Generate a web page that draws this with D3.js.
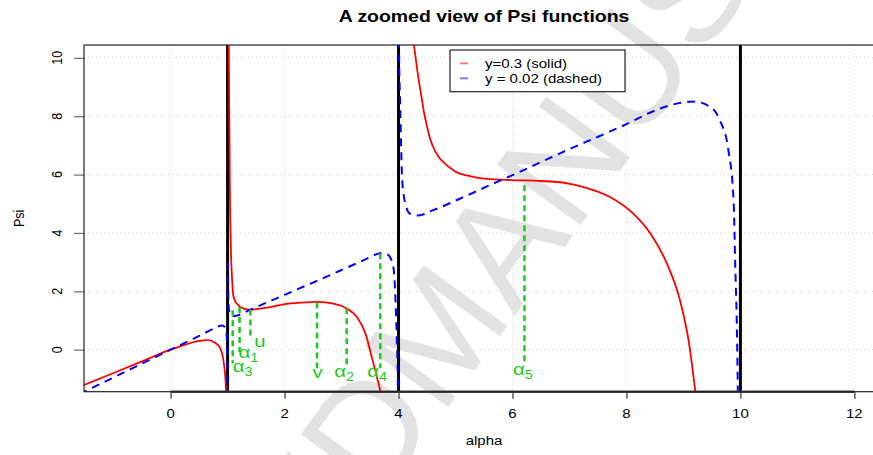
<!DOCTYPE html>
<html>
<head>
<meta charset="utf-8">
<script src="https://cdn.jsdelivr.net/npm/d3@7"></script>
<style>
  body { margin: 0; background: #fff; }
  text { font-family: "Liberation Sans", Arial, sans-serif; }
</style>
</head>
<body>
<svg id="chart" width="873" height="455"></svg>
<script>
// values, [alpha, Psi]
var redA = [[-1.6,-1.27],[-1,-0.8],[-0.5,-0.4],[0,0],[0.3,0.2],[0.5,0.3],[0.65,0.33],[0.78,0.24],[0.87,0.05],[0.93,-0.4],[0.97,-1.3],[0.99,-3]];
var redB = [[1.003,14],[1.02,10.5],[1.04,5.5],[1.06,3.3],[1.08,2.38],[1.1,1.85],[1.16,1.58],[1.28,1.41],[1.4,1.37],[1.69,1.44],[1.98,1.55],[2.28,1.61],[2.57,1.64],[2.86,1.58],[3.09,1.41],[3.27,1.12],[3.42,0.55],[3.53,-0.25],[3.62,-0.94],[3.68,-1.45],[3.75,-3]];
var redC = [[4.12,14],[4.2,11.6],[4.27,10.46],[4.3,10.0],[4.35,9.3],[4.4,8.7],[4.45,8.1],[4.5,7.65],[4.55,7.25],[4.6,6.98],[4.7,6.62],[4.8,6.4],[4.9,6.24],[5.0,6.1],[5.2,5.97],[5.5,5.86],[6.0,5.81],[6.5,5.78],[6.9,5.72],[7.25,5.57],[7.71,5.23],[8.12,4.66],[8.42,3.98],[8.71,2.95],[8.94,1.69],[9.09,0.32],[9.21,-1.45],[9.3,-3]];

var blueA = [[-1.6,-1.52],[-1,-0.95],[0,0],[0.5,0.47],[0.8,0.76],[0.9,0.83],[0.95,0.78],[0.98,0.55],[0.993,0],[1.0,-3]];
var blueB = [[1.005,3],[1.015,1.6],[1.03,1.3],[1.07,1.14],[1.15,1.16],[1.4,1.37],[2,1.88],[2.5,2.3],[3,2.73],[3.4,3.08],[3.6,3.26],[3.7,3.31],[3.8,3.27],[3.87,3.1],[3.91,2.83],[3.94,2.03],[3.97,0.32],[3.99,-1.4],[4.0,-4]];
var blueC = [[3.995,13],[4.01,10],[4.03,8.3],[4.06,6.0],[4.09,5.3],[4.12,5.0],[4.2,4.66],[4.35,4.6],[4.61,4.78],[5.14,5.23],[5.73,5.75],[6.02,6.0],[6.95,6.83],[7.89,7.63],[8.59,8.26],[8.9,8.44],[9.18,8.5],[9.47,8.32],[9.64,7.86],[9.79,6.83],[9.88,5.12],[9.91,2.83],[9.94,0.55],[9.955,-1.45],[9.97,-4]];

var poles = [1, 4, 10];

// green drop lines: alpha, top, bottom
var dropX   = [1.09, 1.21, 1.40, 2.57, 3.09, 3.68, 6.21];
var dropTop = [1.35, 1.46, 1.38, 1.62, 1.42, 3.30, 5.63];
var dropBot = [-0.47, -0.08, 0.49, -0.64, -0.64, -0.64, -0.54];
var dropLab = ["α3", "α1", "u", "v", "α2", "α4", "α5"];
var labX = [1.09, 1.19, 1.47, 2.49, 2.87, 3.45, 6.01];
var labY = [-0.77, -0.3, 0.1, -0.97, -0.94, -0.94, -0.86];

var xTicks = [0, 2, 4, 6, 8, 10, 12];
var yTicks = [0, 2, 4, 6, 8, 10];
var legendLabels = ["y=0.3 (solid)", "y = 0.02 (dashed)"];

var SX = 1.2; // the picture is stretched sideways

var svg = d3.select("#chart");
var L = 84, T = 45, B = 391.7, R = 884;

var x = d3.scaleLinear().domain([-1.52, 12.52]).range([L, R]);
var y = d3.scaleLinear().domain([-1.44, 10.44]).range([B, T]);

function txt(g, px, py, s, size, opts) {
  opts = opts || {};
  return g.append("text")
    .attr("transform", "translate(" + px + "," + py + ") scale(" + SX + ",1)" + (opts.rot ? " rotate(-90)" : ""))
    .attr("text-anchor", opts.anchor || "middle")
    .attr("font-size", size)
    .attr("font-weight", opts.bold ? "bold" : null)
    .attr("fill", opts.fill || "#000")
    .text(s);
}

svg.append("defs").append("clipPath").attr("id", "plotclip")
  .append("rect").attr("x", L).attr("y", T).attr("width", R - L).attr("height", B - T);

// grid
var grid = svg.append("g").attr("stroke", "#d3d3d3").attr("stroke-dasharray", "1,3").attr("stroke-width", 1);
grid.selectAll(".gx").data(xTicks).enter().append("line")
  .attr("x1", d => x(d)).attr("x2", d => x(d)).attr("y1", T).attr("y2", B);
grid.selectAll(".gy").data(yTicks).enter().append("line")
  .attr("x1", L).attr("x2", R).attr("y1", d => y(d)).attr("y2", d => y(d));

// watermark
var wm = svg.append("g").attr("fill", "#e2e2e2").attr("font-size", 150);
wm.append("text").attr("transform", "translate(441,417) rotate(-54)").attr("text-anchor", "start").text("MANUSCRIPT");
wm.append("text").attr("transform", "translate(441,417) rotate(-54)").attr("text-anchor", "end").text("ACCEPTED ");

var plot = svg.append("g").attr("clip-path", "url(#plotclip)");

plot.selectAll(".pole").data(poles).enter().append("line")
  .attr("x1", d => x(d)).attr("x2", d => x(d)).attr("y1", T).attr("y2", B)
  .attr("stroke", "#000").attr("stroke-width", 3);

var line = d3.line().x(d => x(d[0])).y(d => y(d[1])).curve(d3.curveMonotoneX);

plot.selectAll(".red").data([redA, redB, redC]).enter().append("path")
  .attr("d", line).attr("fill", "none").attr("stroke", "#ff0000").attr("stroke-width", 1.8);
plot.selectAll(".blue").data([blueA, blueB, blueC]).enter().append("path")
  .attr("d", line).attr("fill", "none").attr("stroke", "#0000ff").attr("stroke-width", 2)
  .attr("stroke-dasharray", "8,6");

// green drops + labels
plot.selectAll(".drop").data(dropX).enter().append("line")
  .attr("x1", d => x(d)).attr("x2", d => x(d))
  .attr("y1", (d, i) => y(dropTop[i])).attr("y2", (d, i) => y(dropBot[i]))
  .attr("stroke", "#1ec81e").attr("stroke-width", 2.5).attr("stroke-dasharray", "6,4");

dropLab.forEach(function(s, i) {
  var t = txt(svg, x(labX[i]), y(labY[i]), "", 17, {anchor: "start", fill: "#1ec81e"});
  t.append("tspan").text(s[0]);
  if (s.length > 1) t.append("tspan").attr("font-size", 12).attr("dy", 4).text(s.slice(1));
});

// axes
var xAxis = svg.append("g").attr("transform", "translate(0," + B + ")")
  .call(d3.axisBottom(x).tickValues(xTicks).tickSize(7).tickFormat(""));
xAxis.select(".domain").remove();
xAxis.selectAll("line").attr("stroke", "#444").attr("stroke-width", 1.3);
svg.append("line").attr("x1", x(0)).attr("x2", x(12)).attr("y1", B).attr("y2", B)
  .attr("stroke", "#444").attr("stroke-width", 2.5);
xTicks.forEach(function(d) { txt(svg, x(d), B + 26, d, 12.5); });

var yAxis = svg.append("g").attr("transform", "translate(" + L + ",0)")
  .call(d3.axisLeft(y).tickValues(yTicks).tickSize(10).tickFormat(""));
yAxis.select(".domain").remove();
yAxis.selectAll("line").attr("stroke", "#777").attr("stroke-width", 1.3);
yTicks.forEach(function(d) { txt(svg, L - 22, y(d), d, 12.5, {rot: true}); });

// box
svg.append("rect").attr("x", L).attr("y", T).attr("width", R - L).attr("height", B - T)
  .attr("fill", "none").attr("stroke", "#222").attr("stroke-width", 1.2);

txt(svg, 484, 21.5, "A zoomed view of Psi functions", 16.2, {bold: true});
txt(svg, 484, 445, "alpha", 12.5);
txt(svg, 24, (T + B) / 2, "Psi", 12.5, {rot: true});

// legend
var lg = svg.append("g");
lg.append("rect").attr("x", 450).attr("y", 50).attr("width", 175).attr("height", 41.7)
  .attr("fill", "#fff").attr("stroke", "#222").attr("stroke-width", 1.2);
var legCol = ["#ff8080", "#8080ff"];
legendLabels.forEach(function(s, i) {
  var cy = 63.3 + i * 15;
  lg.append("line").attr("x1", 460).attr("x2", 468).attr("y1", cy).attr("y2", cy)
    .attr("stroke", legCol[i]).attr("stroke-width", 2);
  txt(lg, 485, cy + 4.5, s, 12.5, {anchor: "start"});
});
</script>
</body>
</html>
